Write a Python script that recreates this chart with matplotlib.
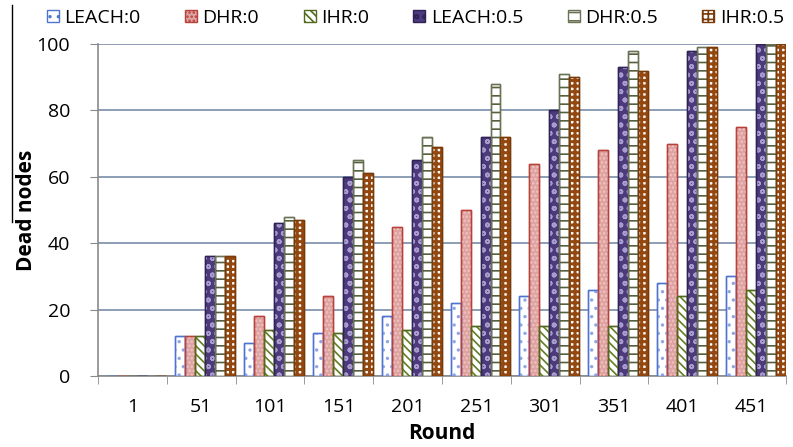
import matplotlib.pyplot as plt
import numpy as np
from matplotlib.lines import Line2D
from matplotlib.patches import Rectangle

plt.rcParams['font.family'] = ['Open Sans', 'DejaVu Sans']
plt.rcParams['hatch.linewidth'] = 1.2

rounds = ["1", "51", "101", "151", "201", "251", "301", "351", "401", "451"]

leach_0 = [0, 12, 10, 13, 18, 22, 24, 26, 28, 30]
dhr_0 = [0, 12, 18, 24, 45, 50, 64, 68, 70, 75]
ihr_0 = [0, 12, 14, 13, 14, 15, 15, 15, 24, 26]
leach_05 = [0, 36, 46, 60, 65, 72, 80, 93, 98, 100]
dhr_05 = [0, 36, 48, 65, 72, 88, 91, 98, 99, 100]
ihr_05 = [0, 36, 47, 61, 69, 72, 90, 92, 99, 100]

series = [
    ("LEACH:0", leach_0),
    ("DHR:0", dhr_0),
    ("IHR:0", ihr_0),
    ("LEACH:0.5", leach_05),
    ("DHR:0.5", dhr_05),
    ("IHR:0.5", ihr_05),
]

# face, edge, hatch, hatch colour, hatch line width
styles = [
    ("white", "#4f74d0", "..", "#8fa6e6", 1.2),
    ("#dea3a1", "#b8413c", "....", "#eec4c2", 1.2),
    ("white", "#4f6a1c", "\\\\\\\\", "#5f7f22", 1.2),
    ("#4c3a7c", "#2e2256", "oo", "#a99ccf", 1.2),
    ("white", "#6b7357", "--", "#55603c", 1.2),
    ("white", "#7a3a08", "+++", "#94470f", 2.2),
]

fig = plt.figure(figsize=(7.93, 4.47), dpi=100)
ax = fig.add_axes([98 / 793, 71 / 447, 688 / 793, 332 / 447])

x = np.arange(len(rounds))
width = 0.145
offsets = (np.arange(6) - 2.5) * width + 0.06

for (name, vals), (fc, ec, hatch, hc, hlw), off in zip(series, styles, offsets):
    ax.bar(x + off, vals, width, color=fc, edgecolor=ec, linewidth=1.0, zorder=3)
    with plt.rc_context({'hatch.linewidth': hlw}):
        ax.bar(x + off, vals, width, fill=False, hatch=hatch, edgecolor=hc,
               linewidth=0, zorder=4)
    ax.bar(x + off, vals, width, fill=False, edgecolor=ec, linewidth=1.0, zorder=5)

ax.set_xlim(-0.5, len(rounds) - 0.5)
ax.set_ylim(0, 100)
ax.set_yticks([0, 20, 40, 60, 80, 100])
ax.set_xticks(x)
ax.set_xticklabels(rounds)
ax.set_xticks(np.arange(len(rounds) + 1) - 0.5, minor=True)
ax.tick_params(axis='x', which='major', length=0, labelsize=14, pad=16)
ax.tick_params(axis='x', which='minor', length=6, color='#8a8a8a')
ax.tick_params(axis='y', length=6, color='#8a8a8a', labelsize=14, pad=14)

ax.grid(axis='y', color='#8c9db3', linewidth=1.4, zorder=0)
for s in ['top', 'right']:
    ax.spines[s].set_visible(False)
for s in ['left', 'bottom']:
    ax.spines[s].set_color('#8a8a8a')
    ax.spines[s].set_linewidth(1.2)

ax.set_ylabel("Dead nodes", fontsize=15, fontweight='bold', labelpad=0)
ax.set_xlabel("Round", fontsize=15, fontweight='bold', labelpad=5)

handles = []
for fc, ec, hatch, hc, hlw in styles:
    handles.append(Rectangle((0, 0), 1, 1, facecolor=fc, edgecolor=ec,
                             hatch=hatch, linewidth=1.0))
fig.legend(handles, [s[0] for s in series], loc='center left',
           bbox_to_anchor=(47 / 793, 1 - 18 / 447), ncol=6, frameon=False,
           fontsize=14, handlelength=0.62, handleheight=0.62,
           handletextpad=0.28, columnspacing=2.28, borderaxespad=0,
           borderpad=0.0)

fig.add_artist(Line2D([12 / 793, 12 / 793], [1 - 5 / 447, 1 - 222 / 447],
                      color='black', linewidth=1.0))

fig.savefig("out.png", dpi=100)
